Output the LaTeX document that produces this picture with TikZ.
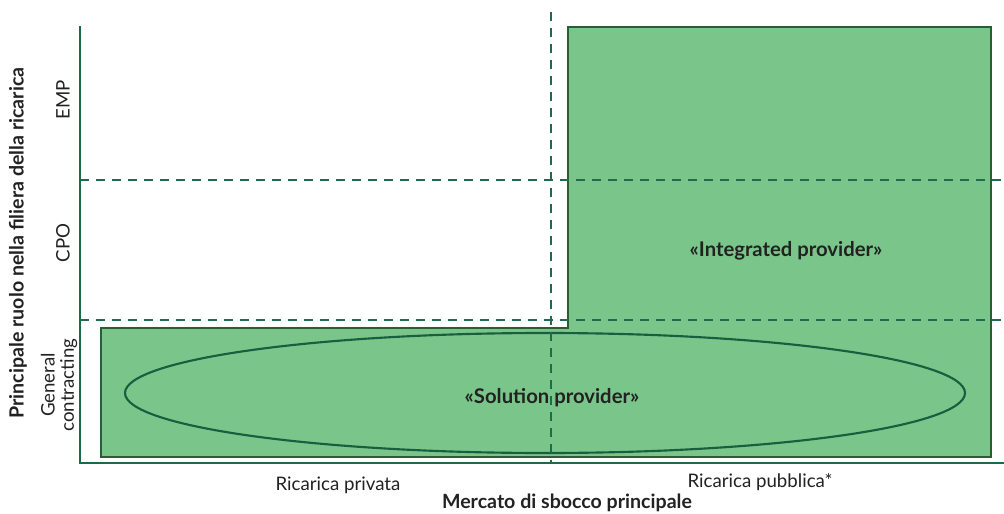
\documentclass[tikz,border=0pt]{standalone}
\usepackage{fontspec}
\setmainfont{Lato}
\definecolor{axisgreen}{HTML}{1A6B4A}
\definecolor{dashgreen}{HTML}{1F6B50}
\definecolor{boxfill}{HTML}{7AC68A}
\definecolor{boxdraw}{HTML}{2E5A36}
\definecolor{ellgreen}{HTML}{1A5E40}
\definecolor{txt}{HTML}{222222}
\tikzset{
  axisline/.style={draw=axisgreen, line width=1.6pt},
  gridline/.style={draw=dashgreen, line width=1.6pt, dash pattern=on 7pt off 5pt},
  areabox/.style={fill=boxfill, draw=boxdraw, line width=1.8pt},
  ellline/.style={draw=ellgreen, line width=1.6pt},
  ticklbl/.style={font=\fontsize{14}{16}\selectfont, text=txt, align=center},
  titlelbl/.style={font=\fontsize{14.7}{17}\selectfont\bfseries, text=txt},
  arealbl/.style={font=\fontsize{15.2}{18}\selectfont\bfseries, text=txt}
}
\begin{document}
\begin{tikzpicture}[x={(0.75pt,0)}, y={(0,-0.75pt)}]
\useasboundingbox (0,0) rectangle (1004,514);
% green area
\path[areabox] (101,328) -- (568,328) -- (568,27) -- (991,27) -- (991,457) -- (101,457) -- cycle;
% ellipse
\draw[ellline] (545,393) ellipse [x radius=420, y radius=60];
% grid lines
\draw[gridline] (80,180) -- (1004,180);
\draw[gridline] (80,320) -- (1004,320);
\draw[gridline] (551,12) -- (551,463);
% axes
\coordinate (ytop) at (80,26);
\coordinate (orig) at (80,463);
\coordinate (xend) at (1004,463);
\draw[axisline] (ytop) -- (orig) -- (xend);
% area labels
\node[arealbl] (integ) at (786,251) {«Integrated provider»};
\node[arealbl] (solut) at (552,398) {«Solution provider»};
% y tick labels
\node[ticklbl, rotate=90] (emp) at (63,100) {EMP};
\node[ticklbl, rotate=90] (cpo) at (63,243) {CPO};
\node[ticklbl, rotate=90, font=\fontsize{14}{14.5}\selectfont] (gen) at (59,385) {General\\contracting};
\node[titlelbl, rotate=90] (ytitle) at (18,243) {Principale ruolo nella filiera della ricarica};
% x tick labels
\node[ticklbl] (priv) at (338,485) {Ricarica privata};
\node[ticklbl] (pubb) at (760,482) {Ricarica pubblica*};
\node[titlelbl] (xtitle) at (567,503) {Mercato di sbocco principale};
\end{tikzpicture}
\end{document}
